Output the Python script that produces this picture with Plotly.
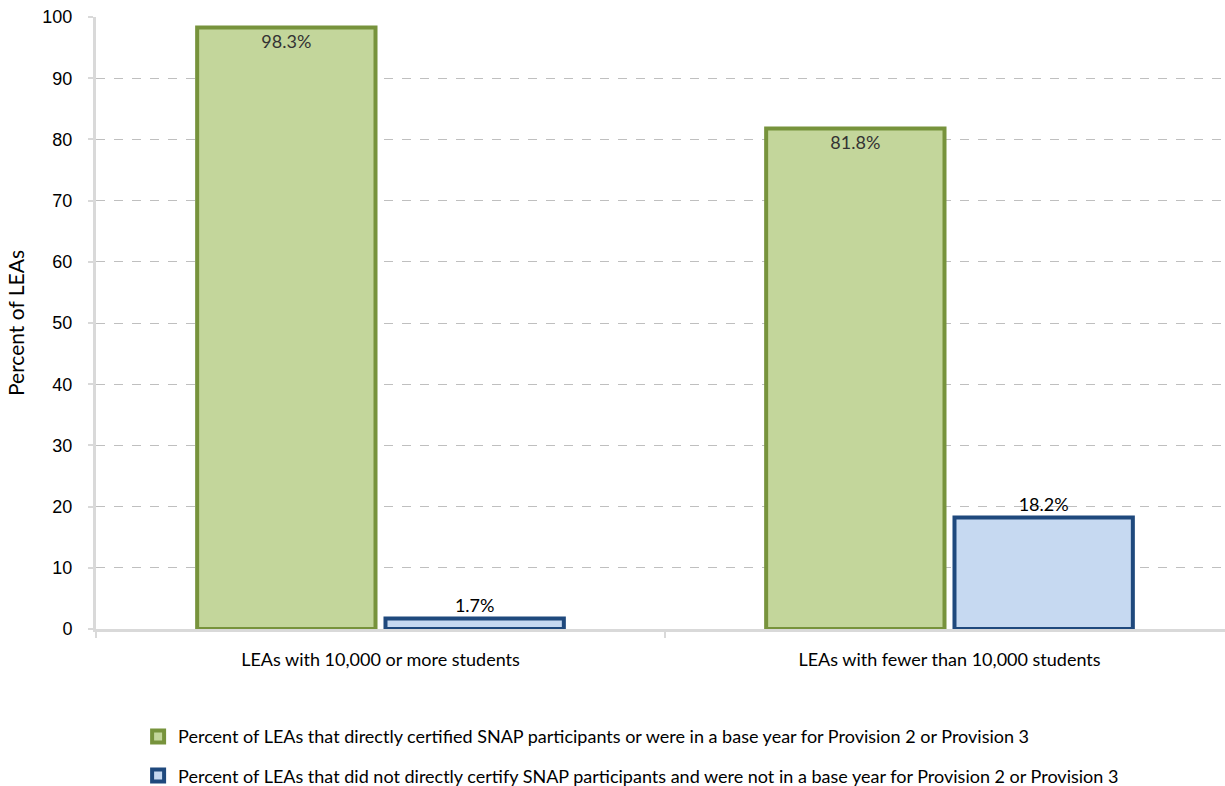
import plotly.graph_objects as go

categories = ["LEAs with 10,000 or more students", "LEAs with fewer than 10,000 students"]
series_names = [
    "Percent of LEAs that directly certified SNAP participants or were in a base year for Provision 2 or Provision 3",
    "Percent of LEAs that did not directly certify SNAP participants and were not in a base year for Provision 2 or Provision 3",
]
certified = [98.3, 81.8]
not_certified = [1.7, 18.2]
y_ticks = [0, 10, 20, 30, 40, 50, 60, 70, 80, 90, 100]

CAL = "Lato, 'Open Sans', sans-serif"
ARI = "'Liberation Sans', Arial, sans-serif"

fig = go.Figure()
fig.add_trace(go.Bar(
    x=categories, y=certified, name=series_names[0],
    marker=dict(color="#C3D69B", line=dict(color="#77933C", width=4)),
    text=[f"{v:.1f}%" for v in certified], textposition="inside",
    insidetextanchor="end", textangle=0,
    textfont=dict(family=CAL, size=18, color="#333333"),
    legend="legend", constraintext="none",
))
fig.add_trace(go.Bar(
    x=categories, y=not_certified, name=series_names[1],
    marker=dict(color="#C6D9F1", line=dict(color="#1F497D", width=4)),
    text=[f"{v:.1f}%" for v in not_certified], textposition="outside",
    textangle=0, textfont=dict(family=CAL, size=18, color="#000000"),
    legend="legend2", cliponaxis=False, constraintext="none",
))

fig.update_layout(
    width=1234, height=786,
    margin=dict(l=96, r=0, t=17, b=157, autoexpand=False),
    plot_bgcolor="white", paper_bgcolor="white",
    barmode="group", bargap=0.338, bargroupgap=0.053,
    showlegend=True,
    legend=dict(x=0.037, xanchor="left", y=-0.176, yanchor="middle",
                font=dict(family=CAL, size=18, color="#000000"),
                bgcolor="rgba(0,0,0,0)", itemwidth=30),
    legend2=dict(x=0.037, xanchor="left", y=-0.240, yanchor="middle",
                 font=dict(family=CAL, size=18, color="#000000"),
                 bgcolor="rgba(0,0,0,0)", itemwidth=30),
    xaxis=dict(
        automargin=False,
        showline=True, linecolor="#D9D9D9", linewidth=3,
        ticks="outside", tickson="boundaries", ticklen=6, tickcolor="#D9D9D9", tickwidth=2,
        ticklabelstandoff=12,
        tickfont=dict(family=CAL, size=18, color="#000000"),
        showgrid=False,
    ),
    yaxis=dict(
        automargin=False,
        range=[0, 100], tickvals=y_ticks,
        showline=True, linecolor="#D9D9D9", linewidth=3,
        ticks="outside", ticklen=5, tickcolor="#D9D9D9", tickwidth=2,
        ticklabelstandoff=12,
        showgrid=True, gridcolor="#BFBFBF", griddash="dash", gridwidth=1,
        zeroline=False,
        tickfont=dict(family=ARI, size=18, color="#000000"),
        title=dict(text="Percent of LEAs", font=dict(family=CAL, size=21, color="#000000"), standoff=13),
    ),
)

fig.write_html(
    "out.html",
    config={"displayModeBar": False},
    post_script="document.body.style.margin='0';document.body.style.padding='0';document.body.style.overflow='hidden';document.documentElement.style.overflow='hidden';",
)
